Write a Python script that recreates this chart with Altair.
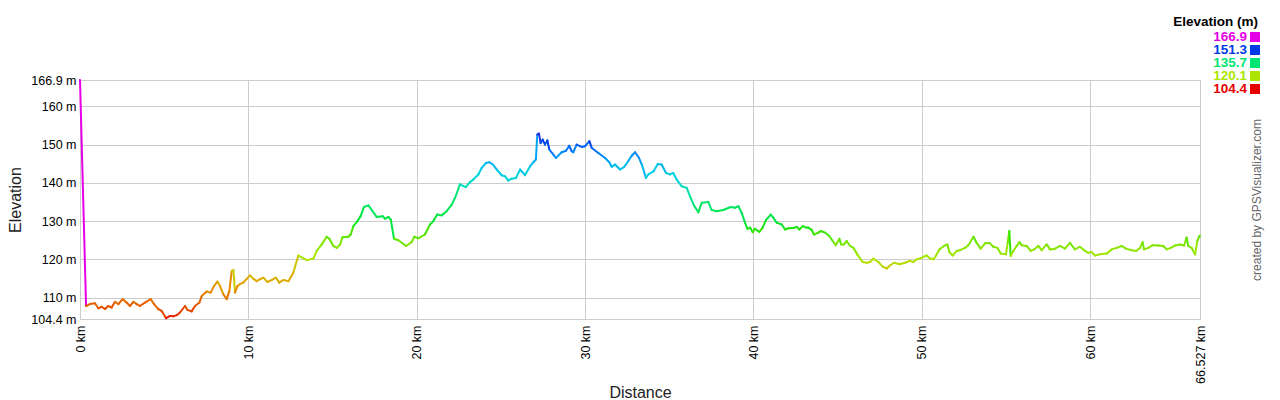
import altair as alt
import pandas as pd

km = [0, 0.36, 0.59, 0.89, 1.09, 1.29, 1.49, 1.68, 1.88, 2.08, 2.28, 2.53, 2.77, 2.97, 3.17, 3.37, 3.56, 3.86,
      4.20, 4.40, 4.65, 4.85, 5.11, 5.35, 5.54, 5.74, 5.94, 6.24, 6.38, 6.63, 6.83, 7.09, 7.23, 7.52, 7.76, 7.96,
      8.16, 8.32, 8.51, 8.71, 8.87, 9.01, 9.11, 9.21, 9.35, 9.50, 9.70, 9.90, 10.10, 10.30, 10.50, 10.69, 10.89,
      11.13, 11.39, 11.64, 11.84, 12.08, 12.38, 12.67, 12.97, 13.23, 13.47,
      13.86, 14.06, 14.36, 14.65, 14.81, 15.05, 15.25, 15.45, 15.59, 15.94, 16.08, 16.24, 16.48, 16.67, 16.87,
      17.13, 17.33, 17.62, 17.98, 18.12, 18.32, 18.46, 18.65, 18.91, 19.37, 19.70, 19.86, 20.10, 20.49, 20.79,
      20.99, 21.22, 21.48, 21.78, 22.08, 22.28, 22.57, 22.91, 23.17, 23.37, 23.66, 23.86, 24.12, 24.32, 24.52,
      24.75, 25.05, 25.25, 25.44, 25.64, 25.90, 26.14,
      26.43, 26.73, 26.93, 27.08, 27.16, 27.26, 27.36, 27.48, 27.62, 27.76, 27.88, 28.12, 28.27, 28.61, 28.87,
      29.06, 29.20, 29.30, 29.50, 29.80, 30.00, 30.26, 30.40, 30.79, 31.19, 31.44, 31.58, 31.78, 32.08, 32.31,
      32.57, 32.77, 32.97, 33.21, 33.37, 33.62, 33.76, 34.06, 34.32, 34.55, 34.81, 35.05, 35.24, 35.44, 35.74,
      36.04, 36.23, 36.47, 36.73, 36.93, 37.32, 37.52, 37.82, 38.21, 38.65, 38.91, 39.11, 39.30,
      39.50, 39.64, 39.80, 39.96, 40.09, 40.35, 40.55, 40.75, 41.03, 41.18, 41.38, 41.68, 41.88, 42.07, 42.37,
      42.57, 42.73, 42.93, 43.12, 43.26, 43.46, 43.60, 43.86, 44.00, 44.25, 44.51, 44.71, 44.89, 45.11, 45.21,
      45.38, 45.54, 45.74, 45.94, 46.17, 46.49, 46.73, 46.93, 47.12, 47.42, 47.68, 47.92, 48.11, 48.35, 48.67,
      49.01, 49.30, 49.50, 49.70, 49.90, 50.13, 50.29, 50.49, 50.69, 50.85, 51.05, 51.32, 51.52, 51.64, 51.84,
      52.08, 52.27,
      52.57, 52.77, 53.07, 53.26, 53.50, 53.76, 54.02, 54.25, 54.49, 54.69, 55.00, 55.10, 55.20, 55.28, 55.44,
      55.64, 55.80, 55.93, 56.23, 56.47, 56.67, 56.92, 57.12, 57.42, 57.62, 57.91, 58.21, 58.51, 58.80, 59.10,
      59.40, 59.70, 59.89, 60.09, 60.29, 60.55, 60.98, 61.28, 61.58, 61.87, 62.13, 62.47, 62.73, 62.97, 63.12,
      63.20, 63.46, 63.72, 64.05, 64.35, 64.55, 64.79, 65.04, 65.34, 65.58, 65.73, 65.83, 66.03, 66.23, 66.37,
      66.49, 66.527]

elev = [166.9, 107.8, 108.3, 108.5, 107.2, 107.6, 107.0, 107.8, 107.4, 108.9, 108.3, 109.6, 108.7, 107.8, 108.9,
        108.3, 107.8, 108.7, 109.6, 108.3, 107.0, 106.5, 104.6, 105.2, 105.1, 105.4, 106.1, 107.8, 106.8, 106.4,
        107.8, 108.7, 110.4, 111.6, 111.3, 113.0, 114.2, 113.0, 110.9, 109.6, 111.7, 116.9, 117.2, 111.3, 113.0,
        113.5, 113.9, 114.9, 115.8, 114.9, 114.3, 114.8, 115.2, 114.1, 114.6, 115.2, 113.9, 114.6, 114.3, 116.5,
        121.0, 120.4, 119.8,
        120.2, 122.2, 123.9, 125.9, 125.4, 123.5, 123.0, 123.9, 125.8, 125.9, 126.5, 128.7, 130.0, 131.3, 133.7,
        134.1, 132.9, 131.1, 131.3, 130.6, 131.1, 130.4, 125.4, 125.0, 123.5, 124.5, 125.9, 125.5, 126.5, 129.1,
        130.0, 131.7, 131.5, 132.6, 134.3, 136.1, 139.6, 138.9, 140.2, 140.9, 142.2, 143.9, 145.2, 145.4, 144.8,
        143.5, 142.0, 141.7, 140.6, 141.1, 141.3, 143.5,
        142.0, 144.3, 145.4, 146.1, 152.6, 152.9, 150.4, 151.3, 150.0, 151.1, 148.7, 147.4, 146.5, 148.0, 148.4,
        149.7, 148.3, 148.0, 150.0, 149.4, 149.6, 150.9, 149.1, 147.8, 146.5, 145.4, 144.2, 144.8, 143.5, 144.1,
        145.7, 147.1, 148.0, 146.5, 144.8, 141.3, 142.2, 143.0, 144.9, 144.8, 142.6, 142.2, 142.6, 140.9, 139.1,
        138.7, 136.5, 134.1, 132.3, 134.8, 135.0, 132.9, 132.6, 132.9, 133.7, 133.5, 133.9, 132.2,
        129.6, 128.0, 128.3, 127.1, 128.0, 127.2, 128.3, 130.3, 131.7, 130.9, 129.6, 129.1, 127.8, 128.1, 128.2,
        128.5, 127.8, 128.7, 128.3, 128.3, 127.7, 126.5, 127.0, 127.4, 127.0, 126.1, 124.8, 123.7, 125.4, 123.9,
        123.9, 124.8, 123.5, 123.0, 121.3, 119.3, 119.1, 119.3, 120.2, 119.3, 118.1, 117.6, 118.4, 119.1, 118.7,
        119.1, 119.6, 119.3, 120.0, 120.2, 120.7, 121.0, 120.2, 120.0, 121.0, 122.6, 123.5, 123.9, 121.9, 121.0,
        122.2, 122.4,
        123.0, 123.7, 125.9, 124.3, 122.8, 124.2, 124.3, 123.3, 123.0, 121.5, 121.3, 124.3, 127.4, 120.9, 122.2,
        123.5, 124.5, 123.7, 123.5, 122.2, 122.6, 123.5, 122.4, 123.9, 122.6, 122.8, 123.5, 122.8, 124.3, 122.6,
        123.3, 122.2, 121.7, 121.9, 121.0, 121.3, 121.5, 122.6, 123.0, 123.5, 122.8, 122.4, 122.2, 123.0, 124.5,
        122.6, 123.0, 123.7, 123.6, 123.5, 122.6, 123.0, 123.6, 123.9, 123.6, 125.7, 123.5, 123.0, 121.3, 124.8,
        126.1, 126.0]

y_ticks = [104.4, 110, 120, 130, 140, 150, 160, 166.9]
x_ticks = [0, 10, 20, 30, 40, 50, 60, 66.527]

legend_labels = ["166.9", "151.3", "135.7", "120.1", "104.4"]
legend_colors = ["#E600E6", "#003AE6", "#00E673", "#ACE600", "#E60000"]

# hue spectrum (red -> magenta) for the elevation color scale
ramp_colors = ["#E60000", "#E69000", "#ACE600", "#1DE600", "#00E673",
               "#00C9E6", "#003AE6", "#5600E6", "#E600E6"]
lo, hi = 104.4, 166.9
ramp_domain = [lo + i * (hi - lo) / 8 for i in range(9)]

FONT = "Liberation Sans"

df = pd.DataFrame({"km": km, "elev": elev})

profile = (
    alt.Chart(df)
    .transform_window(km2="lead(km)", elev2="lead(elev)", sort=[alt.SortField("km")])
    .transform_filter("datum.km2 != null")
    .mark_rule(strokeWidth=2, strokeCap="round")
    .encode(
        x=alt.X("km:Q",
                scale=alt.Scale(domain=[0, 66.527], nice=False, zero=False),
                axis=alt.Axis(values=x_ticks, labelExpr="datum.value + ' km'",
                              labelAngle=270, labelAlign="right", labelBaseline="middle",
                              labelPadding=6, ticks=False, domain=False, grid=True,
                              gridColor="#CCCCCC", gridWidth=1,
                              labelFont=FONT, labelFontSize=12.5, labelColor="#000000",
                              title="Distance", titleFont=FONT, titleFontSize=16,
                              titleFontWeight="normal", titleColor="#222222", titlePadding=1,
                              labelOverlap=False, labelFlush=False)),
        x2="km2:Q",
        y=alt.Y("elev:Q",
                scale=alt.Scale(domain=[lo, hi], nice=False, zero=False),
                axis=alt.Axis(values=y_ticks, labelExpr="datum.value + ' m'",
                              labelPadding=4, ticks=False, domain=False, grid=True,
                              gridColor="#CCCCCC", gridWidth=1,
                              labelFont=FONT, labelFontSize=12.5, labelColor="#000000",
                              title="Elevation", titleFont=FONT, titleFontSize=16,
                              titleFontWeight="normal", titleColor="#222222", titlePadding=7,
                              labelOverlap=False, labelFlush=False)),
        y2="elev2:Q",
        color=alt.Color("elev:Q", scale=alt.Scale(domain=ramp_domain, range=ramp_colors),
                        legend=None),
    )
)

leg_df = pd.DataFrame({"label": legend_labels, "color": legend_colors,
                       "row": list(range(len(legend_labels)))})
leg_y = alt.Y("row:Q", scale=alt.Scale(domain=[0, 4], range=[-43, 9]), axis=None)

leg_text = alt.Chart(leg_df).mark_text(
    align="right", baseline="middle", font=FONT, fontSize=13.5, fontWeight="bold"
).encode(
    x=alt.value(1167), y=leg_y, text="label:N", color=alt.Color("color:N", scale=None)
)
leg_sq = alt.Chart(leg_df).mark_square(size=100, opacity=1, filled=True).encode(
    x=alt.value(1175), y=leg_y, color=alt.Color("color:N", scale=None)
)
leg_title = alt.Chart(pd.DataFrame({"t": ["Elevation (m)"]})).mark_text(
    align="right", baseline="middle", font=FONT, fontSize=13.5, fontWeight="bold", color="#000000"
).encode(x=alt.value(1178), y=alt.value(-58), text="t:N")

credit = alt.Chart(pd.DataFrame({"t": ["created by GPSVisualizer.com"]})).mark_text(
    angle=270, align="center", baseline="middle", font=FONT, fontSize=12, color="#666666"
).encode(x=alt.value(1177), y=alt.value(120), text="t:N")

chart = (
    alt.layer(profile, leg_text, leg_sq, leg_title, credit)
    .resolve_scale(y="independent", color="independent")
    .properties(width=1120, height=239,
                autosize=alt.AutoSizeParams(type="none"),
                padding={"left": 72, "top": 72, "right": 72, "bottom": 92})
    .configure_view(strokeWidth=0)
    .configure(background="#FFFFFF")
)

chart.save("out.html", embed_options={"renderer": "svg", "actions": False})
